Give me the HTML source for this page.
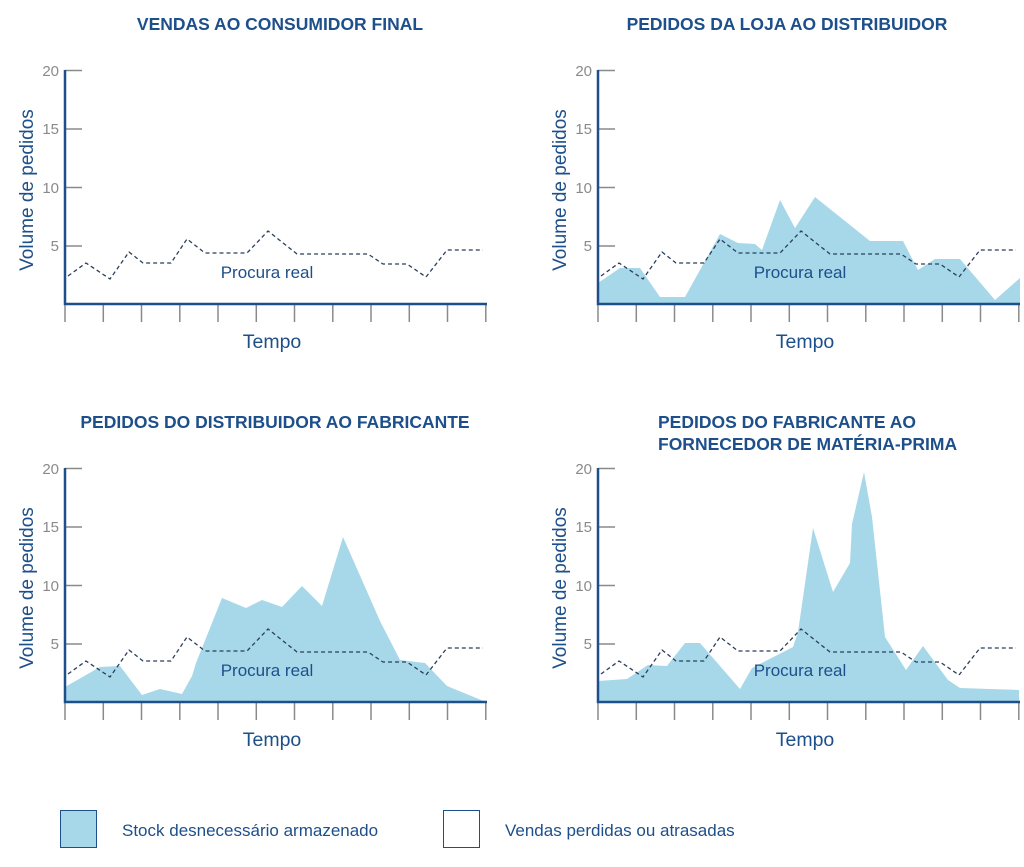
<!DOCTYPE html>
<html><head><meta charset="utf-8"><style>
html,body{margin:0;padding:0;background:#fff;}
svg{display:block;}
text{font-family:"Liberation Sans",sans-serif;}
.t{font-weight:bold;font-size:17.5px;fill:#1d4f8a;}
.g{font-size:15px;fill:#8a8a8a;text-anchor:end;}
.b{font-size:19px;fill:#1d4f8a;}
</style></head><body>
<svg width="1024" height="867" viewBox="0 0 1024 867" xmlns="http://www.w3.org/2000/svg">
<defs>
<g id="ax">
  <g stroke="#8a8a8a" stroke-width="1.5">
    <line x1="65" y1="70.5" x2="82" y2="70.5"/>
    <line x1="65" y1="129" x2="82" y2="129"/>
    <line x1="65" y1="187.5" x2="82" y2="187.5"/>
    <line x1="65" y1="246" x2="82" y2="246"/>
    <line x1="65" y1="304" x2="65" y2="322"/>
    <line x1="103.3" y1="304" x2="103.3" y2="322"/>
    <line x1="141.5" y1="304" x2="141.5" y2="322"/>
    <line x1="179.8" y1="304" x2="179.8" y2="322"/>
    <line x1="218" y1="304" x2="218" y2="322"/>
    <line x1="256.3" y1="304" x2="256.3" y2="322"/>
    <line x1="294.5" y1="304" x2="294.5" y2="322"/>
    <line x1="332.8" y1="304" x2="332.8" y2="322"/>
    <line x1="371" y1="304" x2="371" y2="322"/>
    <line x1="409.3" y1="304" x2="409.3" y2="322"/>
    <line x1="447.5" y1="304" x2="447.5" y2="322"/>
    <line x1="485.8" y1="304" x2="485.8" y2="322"/>
  </g>
  <polyline points="65,70 65,304 487,304" fill="none" stroke="#1d4f8a" stroke-width="2.5"/>
</g>
<polyline id="dm" points="68,276 86,263 110,279 129,252 143,263 171,263 187,239 205,253 247,253 268,231 297,254 368,254 383,264 407,264 426,277 447,250 483,250" fill="none" stroke="#2a3f5a" stroke-width="1.3" stroke-dasharray="4,3"/>
</defs>

<g>
  <use href="#dm"/>
  <use href="#ax"/>
  <text class="t" x="280" y="30" text-anchor="middle">VENDAS AO CONSUMIDOR FINAL</text>
</g>
<g transform="translate(533,0)">
  <polygon points="65,304 65,283 87,268 107,268 127,297 152,297 187,234 205,243 222,244 229,250 247,200 262,228 282,197 337,241 370,241 385,270 402,259 427,259 462,300 487,278 487,304" fill="#a7d8e9"/>
  <use href="#dm"/>
  <use href="#ax"/>
  <text class="t" x="254" y="30" text-anchor="middle">PEDIDOS DA LOJA AO DISTRIBUIDOR</text>
</g>
<g transform="translate(0,398)">
  <polygon points="65,304 65,289 100,269 120,268 142,297 160,291 182,296 192,278 196,265 222,200 246,210 262,202 282,209 302,188 322,208 343,139 380,223 400,262 425,265 447,288 486,304" fill="#a7d8e9"/>
  <use href="#dm"/>
  <use href="#ax"/>
  <text class="t" x="275" y="30" text-anchor="middle">PEDIDOS DO DISTRIBUIDOR AO FABRICANTE</text>
</g>
<g transform="translate(533,398)">
  <polygon points="65,304 65,283 94,281 115,267 134,268 152,245 167,245 207,291 219,270 260,249 265,234 280,130 290,162 300,194 317,165 319,126 331,74 339,119 352,239 373,272 390,248 415,282 427,290 486,292 486,304" fill="#a7d8e9"/>
  <use href="#dm"/>
  <use href="#ax"/>
  <text class="t" x="125" y="30">PEDIDOS DO FABRICANTE AO</text>
  <text class="t" x="125" y="52">FORNECEDOR DE MATÉRIA-PRIMA</text>
</g>

<g>
  <text class="g" x="59" y="76">20</text><text class="g" x="59" y="134">15</text><text class="g" x="59" y="193">10</text><text class="g" x="59" y="251">5</text>
  <text class="b" transform="translate(33,190) rotate(-90)" text-anchor="middle">Volume de pedidos</text>
  <text class="b" x="272" y="348" text-anchor="middle" style="font-size:19.5px">Tempo</text>
  <text class="b" x="267" y="278" text-anchor="middle" style="font-size:17px">Procura real</text>
</g>
<g transform="translate(533,0)">
  <text class="g" x="59" y="76">20</text><text class="g" x="59" y="134">15</text><text class="g" x="59" y="193">10</text><text class="g" x="59" y="251">5</text>
  <text class="b" transform="translate(33,190) rotate(-90)" text-anchor="middle">Volume de pedidos</text>
  <text class="b" x="272" y="348" text-anchor="middle" style="font-size:19.5px">Tempo</text>
  <text class="b" x="267" y="278" text-anchor="middle" style="font-size:17px">Procura real</text>
</g>
<g transform="translate(0,398)">
  <text class="g" x="59" y="76">20</text><text class="g" x="59" y="134">15</text><text class="g" x="59" y="193">10</text><text class="g" x="59" y="251">5</text>
  <text class="b" transform="translate(33,190) rotate(-90)" text-anchor="middle">Volume de pedidos</text>
  <text class="b" x="272" y="348" text-anchor="middle" style="font-size:19.5px">Tempo</text>
  <text class="b" x="267" y="278" text-anchor="middle" style="font-size:17px">Procura real</text>
</g>
<g transform="translate(533,398)">
  <text class="g" x="59" y="76">20</text><text class="g" x="59" y="134">15</text><text class="g" x="59" y="193">10</text><text class="g" x="59" y="251">5</text>
  <text class="b" transform="translate(33,190) rotate(-90)" text-anchor="middle">Volume de pedidos</text>
  <text class="b" x="272" y="348" text-anchor="middle" style="font-size:19.5px">Tempo</text>
  <text class="b" x="267" y="278" text-anchor="middle" style="font-size:17px">Procura real</text>
</g>

<rect x="60.5" y="810.5" width="36" height="37" fill="#a7d8e9" stroke="#1d4f8a" stroke-width="1"/>
<text x="122" y="836" style="font-size:17px;fill:#1d4f8a">Stock desnecessário armazenado</text>
<rect x="443.5" y="810.5" width="36" height="37" fill="#fff" stroke="#1d4f8a" stroke-width="1"/>
<text x="505" y="836" style="font-size:17px;fill:#1d4f8a">Vendas perdidas ou atrasadas</text>
</svg>
</body></html>
